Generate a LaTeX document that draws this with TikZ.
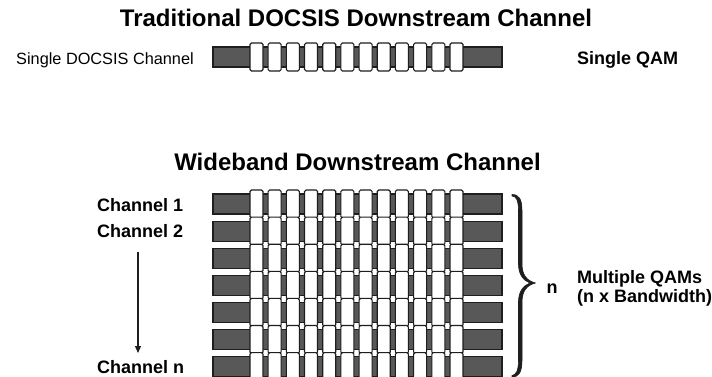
\documentclass[tikz,border=0pt]{standalone}
\usepackage{fontspec}
\setmainfont{Liberation Sans}
\usetikzlibrary{arrows.meta}
\definecolor{barfill}{RGB}{88,88,88}
\definecolor{edge}{RGB}{30,30,30}
\begin{document}
\begin{tikzpicture}[x=1pt,y=-1pt,
  darkbar/.style={fill=barfill,draw=edge,line width=1.1pt},
  whitebox/.style={fill=white,draw=edge,line width=1.1pt,rounded corners=1.5pt},
  title/.style={font=\bfseries\fontsize{24}{28}\selectfont,inner sep=0pt,anchor=base},
  lbl/.style={font=\bfseries\fontsize{18}{20}\selectfont,inner sep=0pt,anchor=base west},
  bracestroke/.style={fill=edge,draw=edge,line width=0.6pt,line join=round},
  qam/.pic={
    \path[darkbar] (213,0) rectangle (502,20);
    \foreach \i in {0,...,11}
      \path[whitebox] ({250+\i*18.18},-4) rectangle ++(13,28);
  }]
\useasboundingbox (0,0) rectangle (712,377);
\clip (0,0) rectangle (712,377);
\fill[white] (0,0) rectangle (712,377);

% top section
\node[title] (t1) at (356,27) {Traditional DOCSIS Downstream Channel};
\node[font=\fontsize{16.3}{18}\selectfont,inner sep=0pt,anchor=base west] (single) at (16,65) {Single DOCSIS Channel};
\node[lbl] (sqam) at (577,65) {Single QAM};
\pic at (0,47) {qam};

% bottom section
\node[title] (t2) at (357.5,171) {Wideband Downstream Channel};
\foreach \r in {0,...,6}
  \pic at (0,{194+\r*27.1}) {qam};

\node[lbl] (c1) at (97,211) {Channel 1};
\node[lbl] (c2) at (97,237) {Channel 2};
\node[lbl] (cn) at (97,373) {Channel n};
\coordinate (arrs) at (138,252);
\coordinate (arre) at (138,353);
\draw[line width=1.2pt,edge,-{Triangle[length=7pt,width=6pt]}] (arrs) -- (arre);

% curly brace (filled, thicker in the middle)
\coordinate (btop) at (512,194.5);
\coordinate (btip) at (535.5,283);
\coordinate (bbot) at (512,377);
\path[bracestroke]
  (btop) .. controls (519,194.5) and (522,199) .. (522,211)
  -- (522,264) .. controls (522,275) and (527,281) .. (btip)
  .. controls (527,285) and (522,291) .. (522,302)
  -- (522,360) .. controls (522,372) and (519,377) .. (bbot)
  -- (512,375.5) .. controls (516,375) and (518.5,371) .. (518.5,360)
  -- (518.5,302) .. controls (518.5,292) and (523,285.5) .. (530,283)
  .. controls (523,280.5) and (518.5,274) .. (518.5,264)
  -- (518.5,211) .. controls (518.5,200) and (516,196) .. (512,196) -- cycle;

\node[lbl] (n) at (546.5,293) {n};
\node[lbl] (mq) at (577,283) {Multiple QAMs};
\node[lbl] (bw) at (577,302) {(n x Bandwidth)};
\end{tikzpicture}
\end{document}
